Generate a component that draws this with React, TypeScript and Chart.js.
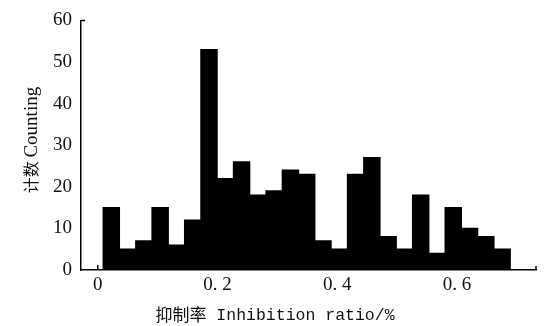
import React, { useEffect, useRef } from "react";
import { Chart, registerables } from "chart.js";

Chart.register(...registerables);

// Histogram bin centres (inhibition ratio) and counts
const binCenters = [
  0.0226, 0.0498, 0.077, 0.1042, 0.1314, 0.1586, 0.1858, 0.213, 0.2402, 0.2674,
  0.2946, 0.3218, 0.349, 0.3762, 0.4034, 0.4306, 0.4578, 0.485, 0.5122, 0.5394,
  0.5666, 0.5938, 0.621, 0.6482, 0.6754,
];
const counts = [
  15, 5, 7, 15, 6, 12, 53, 22, 26, 18, 19, 24, 23, 7, 5, 23, 27, 8, 5, 18, 4, 15,
  10, 8, 5,
];
const xTickValues = [0, 0.2, 0.4, 0.6];
const xTickLabels = ["0", "0. 2", "0. 4", "0. 6"];
const yTickValues = [0, 10, 20, 30, 40, 50, 60];
const xTitleCJK = "抑制率";
const xTitleLatin = " Inhibition ratio/%";
const yTitleCJK = "计数 ";
const yTitleLatin = "Counting";

const SERIF = "'Liberation Serif', 'Times New Roman', serif";
const CJK = "'Noto Sans CJK SC', sans-serif";
const MONO = "'Liberation Mono', monospace";

const decorPlugin = {
  id: "decor",
  beforeDatasetsDraw(chart: any) {
    const { ctx, chartArea, scales } = chart;
    const x = scales.x;
    ctx.save();
    ctx.strokeStyle = "#000";
    ctx.lineWidth = 1.5;
    ctx.beginPath();
    for (const v of xTickValues) {
      const px = x.getPixelForValue(v);
      ctx.moveTo(px, chartArea.bottom);
      ctx.lineTo(px, chartArea.bottom - 5);
    }
    ctx.moveTo(chartArea.left, chartArea.top);
    ctx.lineTo(chartArea.left + 4, chartArea.top);
    ctx.moveTo(chartArea.right, chartArea.bottom);
    ctx.lineTo(chartArea.right, chartArea.bottom - 4);
    ctx.stroke();
    ctx.restore();
  },
  afterDraw(chart: any) {
    const { ctx } = chart;
    ctx.save();
    ctx.fillStyle = "#111";
    ctx.textBaseline = "middle";
    ctx.textAlign = "left";
    // x title
    ctx.font = `17px ${CJK}`;
    const w1 = ctx.measureText(xTitleCJK).width;
    ctx.font = `16.5px ${MONO}`;
    const w2 = ctx.measureText(xTitleLatin).width;
    const xs = 275 - (w1 + w2) / 2;
    ctx.font = `17px ${CJK}`;
    ctx.fillText(xTitleCJK, xs, 315);
    ctx.font = `16.5px ${MONO}`;
    ctx.fillText(xTitleLatin, xs + w1, 316);
    // y title
    ctx.translate(31, 140);
    ctx.rotate(-Math.PI / 2);
    ctx.font = `16px ${CJK}`;
    const v1 = ctx.measureText(yTitleCJK).width;
    ctx.font = `19px ${SERIF}`;
    const v2 = ctx.measureText(yTitleLatin).width;
    const ys = -(v1 + v2) / 2;
    ctx.font = `16px ${CJK}`;
    ctx.fillText(yTitleCJK, ys, 0);
    ctx.font = `19px ${SERIF}`;
    ctx.fillText(yTitleLatin, ys + v1, 1);
    ctx.restore();
  },
};

export default function App() {
  const ref = useRef<HTMLCanvasElement | null>(null);
  useEffect(() => {
    if (!ref.current) return;
    const chart = new Chart(ref.current, {
      type: "bar",
      data: {
        datasets: [
          {
            data: binCenters.map((c, i) => ({ x: c, y: counts[i] })),
            backgroundColor: "#000",
            borderWidth: 0,
            inflateAmount: 0.6,
            barPercentage: 1,
            categoryPercentage: 1,
          } as any,
        ],
      },
      options: {
        animation: false,
        responsive: false,
        layout: { padding: { top: 17, right: 9, left: 0, bottom: 0 } },
        plugins: { legend: { display: false }, tooltip: { enabled: false } },
        scales: {
          x: {
            type: "linear",
            min: -0.028,
            max: 0.732,
            offset: false,
            grid: { display: false, drawTicks: false, offset: false },
            border: { display: true, color: "#000", width: 1.5 },
            afterBuildTicks: (s: any) => {
              s.ticks = xTickValues.map((v) => ({ value: v }));
            },
            afterFit: (s: any) => {
              s.height = 56;
            },
            ticks: {
              color: "#111",
              padding: 4,
              maxRotation: 0,
              autoSkip: false,
              font: { family: SERIF, size: 19 },
              callback: (v: any) => {
                const i = xTickValues.indexOf(Number(v));
                return i >= 0 ? xTickLabels[i] : "";
              },
            },
          },
          y: {
            type: "linear",
            min: 0,
            max: 60,
            grid: { display: false, drawTicks: false },
            border: { display: true, color: "#000", width: 1.5 },
            afterBuildTicks: (s: any) => {
              s.ticks = yTickValues.map((v) => ({ value: v }));
            },
            afterFit: (s: any) => {
              s.width = 81;
            },
            ticks: {
              color: "#111",
              padding: 9,
              font: { family: SERIF, size: 19 },
            },
          },
        },
      },
      plugins: [decorPlugin],
    });
    return () => chart.destroy();
  }, []);
  return (
    <div style={{ position: "absolute", left: 0, top: 0, width: 545, height: 326, background: "#fff" }}>
      <canvas ref={ref} width={545} height={326} />
    </div>
  );
}
